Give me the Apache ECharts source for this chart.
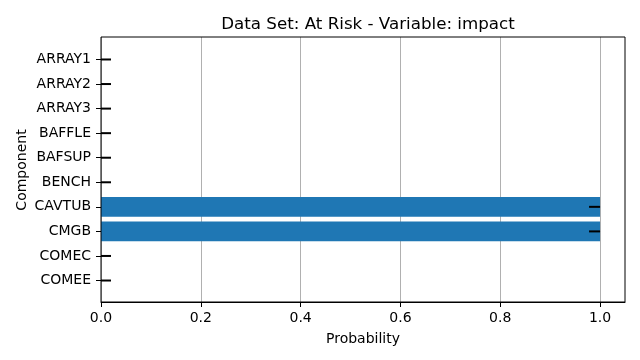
<!DOCTYPE html>
<html><head><meta charset="utf-8">
<script src="https://cdn.jsdelivr.net/npm/echarts@6/dist/echarts.min.js"></script>
<style>html,body{margin:0;padding:0;background:#fff}#c{width:640px;height:360px}</style>
</head><body><div id="c"></div>
<script>
var categories = ['ARRAY1','ARRAY2','ARRAY3','BAFFLE','BAFSUP','BENCH','CAVTUB','CMGB','COMEC','COMEE'];
var values = [0,0,0,0,0,0,1.0,1.0,0,0];
var errLower = [0,0,0,0,0,0,0.978,0.978,0,0];
var errUpper = [0.02,0.02,0.02,0.02,0.02,0.02,1.0,1.0,0.02,0.02];
var xTicks = [0,0.2,0.4,0.6,0.8,1.0];

var FONT = 'DejaVu Sans';
var chart = echarts.init(document.getElementById('c'), null, {renderer:'canvas'});
var errData = categories.map(function(c,i){return [i, errLower[i], errUpper[i]];});
chart.setOption({
  animation:false,
  title:{text:'Data Set: At Risk - Variable: impact', left:363, top:11, textAlign:'center',
    textStyle:{fontFamily:FONT, fontSize:16.7, fontWeight:'normal', color:'#000'}},
  grid:[
    {left:101, right:15, top:37, bottom:58, show:true, borderColor:'#000', borderWidth:1, backgroundColor:'transparent', z:3},
    {left:101, right:15, top:47.2, bottom:67.2}
  ],
  xAxis:[
    {gridIndex:0, type:'value', min:0, max:1.05, interval:0.2,
     name:'Probability', nameLocation:'middle', nameGap:30,
     nameTextStyle:{fontFamily:FONT, fontSize:14, color:'#000'},
     axisLine:{show:true, lineStyle:{color:'#000', width:1}},
     axisTick:{show:true, length:5, lineStyle:{color:'#000'}, customValues:xTicks},
     axisLabel:{fontFamily:FONT, fontSize:14, color:'#000', margin:9, customValues:xTicks,
       formatter:function(v){return v.toFixed(1);}},
     splitLine:{show:true, lineStyle:{color:'#b0b0b0', width:1}}},
    {gridIndex:1, type:'value', min:0, max:1.05, show:false}
  ],
  yAxis:[
    {gridIndex:0, type:'value', min:0, max:1, show:false},
    {gridIndex:1, type:'category', inverse:true, data:categories,
     name:'Component', nameLocation:'middle', nameGap:72, nameRotate:90, nameMoveOverlap:false,
     nameTextStyle:{fontFamily:FONT, fontSize:14, color:'#000'},
     axisLine:{show:false},
     axisTick:{show:true, alignWithLabel:true, length:5, lineStyle:{color:'#000'}},
     axisLabel:{fontFamily:FONT, fontSize:14, color:'#000', margin:10},
     splitLine:{show:false}}
  ],
  series:[
    {type:'bar', xAxisIndex:1, yAxisIndex:1, data:values, barWidth:'80%',
     itemStyle:{color:'#1f77b4'}, z:2},
    {type:'custom', xAxisIndex:1, yAxisIndex:1, data:errData, z:5,
     renderItem:function(params, api){
       var a = api.coord([api.value(1), api.value(0)]);
       var b = api.coord([api.value(2), api.value(0)]);
       return {type:'line', shape:{x1:a[0], y1:a[1], x2:b[0], y2:b[1]},
         style:{stroke:'#000', lineWidth:2}};
     }}
  ]
});
</script></body></html>
